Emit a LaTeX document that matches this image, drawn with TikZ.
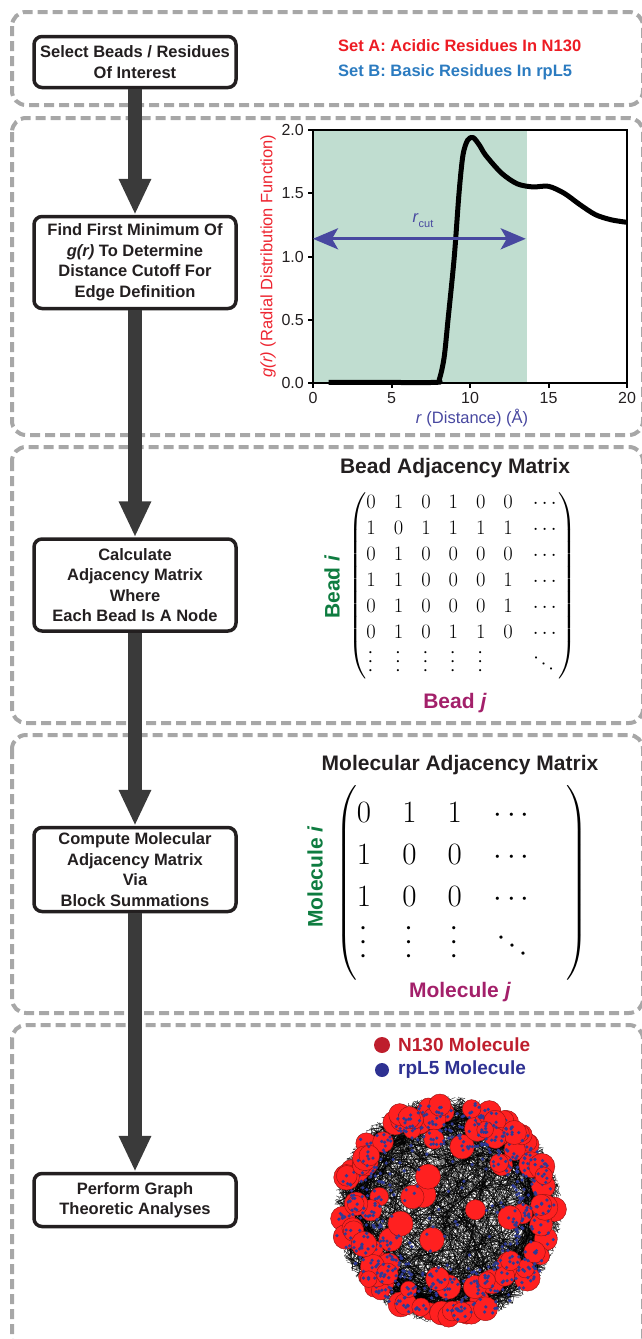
\documentclass[tikz,border=0pt]{standalone}
\usepackage{fix-cm}
\usepackage[no-math]{fontspec}
\setmainfont{Liberation Sans}
\usepackage{amsmath}
\usepackage{graphicx}
\usetikzlibrary{arrows.meta}

\definecolor{panelgray}{HTML}{A7A7A7}
\definecolor{inkblack}{HTML}{231F20}
\definecolor{shaftgray}{HTML}{3A3A3A}
\definecolor{setared}{HTML}{ED1C24}
\definecolor{setbblue}{HTML}{2B7BC0}
\definecolor{shadegreen}{HTML}{C0DDD0}
\definecolor{gred}{HTML}{ED2530}
\definecolor{cutblue}{HTML}{4848A0}
\definecolor{beadgreen}{HTML}{0E7C40}
\definecolor{beadpurple}{HTML}{A3206A}
\definecolor{legred}{HTML}{BE1E2D}
\definecolor{legblue}{HTML}{2E3192}
\definecolor{ballred}{HTML}{FF2020}
\definecolor{dotblue}{HTML}{2E3A96}

% round dots for the matrices, scaled with the font
\newcommand{\colvdots}{\rotatebox{90}{$\cdots$}}
\newcommand{\diagdots}{\raisebox{0.6em}{\rotatebox{-35}{$\cdots$}}}

\tikzset{
  panel/.style={draw=panelgray, line width=4pt, dash pattern=on 10pt off 5pt, rounded corners=14pt},
  stepbox/.style={draw=inkblack, line width=3.5pt, rounded corners=8pt, fill=white,
    minimum width=202pt, align=center, text=inkblack, inner sep=0pt,
    font=\fontsize{16.5}{20.5}\selectfont\bfseries},
  flow/.style={draw=shaftgray, line width=14pt, -{Triangle[length=36pt,width=30pt]}},
  ticklab/.style={font=\fontsize{16}{18}\selectfont, text=inkblack, inner sep=0pt},
  axlab/.style={font=\fontsize{16.5}{19}\selectfont, inner sep=0pt},
  cutarrow/.style={draw=cutblue, line width=3pt,
    {Stealth[length=25pt,width=21pt,inset=6pt]}-{Stealth[length=25pt,width=21pt,inset=6pt]}},
  mattitle/.style={font=\fontsize{21}{24}\selectfont\bfseries, text=inkblack, inner sep=0pt},
  matlab/.style={font=\fontsize{21}{24}\selectfont\bfseries, inner sep=0pt},
  legtext/.style={font=\fontsize{19}{22}\selectfont\bfseries, inner sep=0pt, anchor=west},
  edgeline/.style={draw=black, line width=0.5pt, opacity=0.75},
  redmol/.style={fill=ballred, draw=ballred!55!black, line width=0.4pt},
}

\begin{document}
\begin{tikzpicture}[x=1pt, y=-1pt]
\useasboundingbox (0,0) rectangle (641,1339);

% dashed panels
\draw[panel] (12,12) rectangle (643,105);
\draw[panel] (12,118) rectangle (643,435);
\draw[panel] (12,447) rectangle (643,723);
\draw[panel] (12,735) rectangle (643,1013);
\draw[panel] (12,1025) rectangle (643,1352);

% workflow steps
\node[stepbox, minimum height=51pt] (select) at (135,62) {Select Beads / Residues\\Of Interest};
\node[stepbox, minimum height=92pt] (findmin) at (135,262.5) {Find First Minimum Of\\\textit{g(r)} To Determine\\Distance Cutoff For\\Edge Definition};
\node[stepbox, minimum height=92pt] (beadadj) at (135,585) {Calculate\\Adjacency Matrix\\Where\\Each Bead Is A Node};
\node[stepbox, minimum height=84pt] (moladj) at (135,869.5) {Compute Molecular\\Adjacency Matrix\\Via\\Block Summations};
\node[stepbox, minimum height=53pt] (graphan) at (135,1200) {Perform Graph\\Theoretic Analyses};

\draw[flow] (select) -- (findmin);
\draw[flow] (findmin) -- (beadadj);
\draw[flow] (beadadj) -- (moladj);
\draw[flow] (moladj) -- (graphan);

% bead sets
\node[font=\fontsize{16.5}{19}\selectfont\bfseries, text=setared, anchor=west, inner sep=0pt] (seta) at (338,46) {Set A: Acidic Residues In N130};
\node[font=\fontsize{16.5}{19}\selectfont\bfseries, text=setbblue, anchor=west, inner sep=0pt] (setb) at (338,72) {Set B: Basic Residues In rpL5};

% g(r) plot
\begin{scope}[shift={(313,383)}, x=15.7pt, y=126.5pt]
  \fill[shadegreen] (0,0) rectangle (13.6,2);
  \draw[line width=5pt, line join=round] plot[smooth, tension=0.5] coordinates {
    (1,0.005) (4,0.005) (7.8,0.005) (8.05,0.03) (8.35,0.2) (8.6,0.5) (9.0,1.0)
    (9.3,1.5) (9.55,1.8) (9.85,1.92) (10.2,1.94) (10.6,1.88) (11,1.80) (12,1.66)
    (13,1.575) (14,1.55) (15,1.555) (16,1.5) (17,1.41) (18,1.33) (19,1.29) (20,1.27)};
  \draw[line width=2.5pt] (0,0) rectangle (20,2);
  \foreach \v/\t [count=\i] in {0/0.0,0.5/0.5,1/1.0,1.5/1.5,2/2.0}{
    \draw[line width=2pt] (0,\v) -- ++(-5pt,0);
    \node[ticklab, anchor=east, xshift=-9pt] (ytick\i) at (0,\v) {\t};
  }
  \foreach \u [count=\i] in {0,5,10,15,20}{
    \draw[line width=2pt] (\u,0) -- ++(0,-5pt);
    \node[ticklab, anchor=north, yshift=-9pt] (xtick\i) at (\u,0) {\u};
  }
  \draw[cutarrow] (0,1.14) -- (13.55,1.14);
\end{scope}
\node[axlab, text=cutblue] (rcut) at (423,221) {\textit{r}\raisebox{-5pt}{\fontsize{11}{12}\selectfont cut}};
\node[axlab, text=gred, rotate=90] (ylab) at (268,256) {\textit{g(r)} (Radial Distribution Function)};
\node[axlab, text=cutblue] (xlab) at (472,418) {\textit{r} (Distance) (Å)};

% bead adjacency matrix
\node[mattitle] (beadtitle) at (455,468) {Bead Adjacency Matrix};
\node[inner sep=0pt] (beadmat) at (462.5,585.5) {\fontsize{20.5}{26}\selectfont\setlength{\arraycolsep}{9pt}$\begin{pmatrix}
0 & 1 & 0 & 1 & 0 & 0 & \cdots\\
1 & 0 & 1 & 1 & 1 & 1 & \cdots\\
0 & 1 & 0 & 0 & 0 & 0 & \cdots\\
1 & 1 & 0 & 0 & 0 & 1 & \cdots\\
0 & 1 & 0 & 0 & 0 & 1 & \cdots\\
0 & 1 & 0 & 1 & 1 & 0 & \cdots\\
\colvdots & \colvdots & \colvdots & \colvdots & \colvdots & & \diagdots
\end{pmatrix}$};
\node[matlab, text=beadgreen, rotate=90] (beadi) at (332,587) {Bead \textit{i}};
\node[matlab, text=beadpurple] (beadj) at (455,703) {Bead \textit{j}};

% molecular adjacency matrix
\node[mattitle] (moltitle) at (460,765) {Molecular Adjacency Matrix};
\node[inner sep=0pt] (molmat) at (461.5,883) {\fontsize{31}{42}\selectfont\setlength{\arraycolsep}{15.6pt}\setlength{\delimitershortfall}{-6pt}$\begin{pmatrix}
0 & 1 & 1 & \cdots & \\
1 & 0 & 0 & \cdots & \\
1 & 0 & 0 & \cdots & \\
\colvdots & \colvdots & \colvdots & \diagdots &
\end{pmatrix}$};
\node[matlab, text=beadgreen, rotate=90] (moli) at (315,877) {Molecule \textit{i}};
\node[matlab, text=beadpurple] (molj) at (460,992) {Molecule \textit{j}};

% legend
\node[circle, fill=legred, minimum size=16pt, inner sep=0pt] (redmark) at (382,1045) {};
\node[legtext, text=legred] (redlab) at (398,1045) {N130 Molecule};
\node[circle, fill=legblue, minimum size=14pt, inner sep=0pt] (bluemark) at (382,1070) {};
\node[legtext, text=legblue] (bluelab) at (398,1070) {rpL5 Molecule};

% molecular network
\pgfmathsetseed{2024}
\begin{scope}[shift={(448,1210)}]
  % long chords
  \foreach \k in {1,...,650}{
    \pgfmathsetmacro{\aa}{360*rnd}
    \pgfmathsetmacro{\ab}{\aa+40+280*rnd}
    \pgfmathsetmacro{\ra}{114*(1-0.4*rnd*rnd)}
    \pgfmathsetmacro{\rb}{114*(1-0.4*rnd*rnd)}
    \draw[edgeline] (\aa:\ra) -- (\ab:\rb);
  }
  % short chords along the rim
  \foreach \k in {1,...,700}{
    \pgfmathsetmacro{\aa}{360*rnd}
    \pgfmathsetmacro{\ab}{\aa+(rnd-0.5)*110}
    \pgfmathsetmacro{\ra}{114*(1-0.3*rnd)}
    \pgfmathsetmacro{\rb}{114*(1-0.3*rnd)}
    \draw[edgeline] (\aa:\ra) -- (\ab:\rb);
  }
  % N130 molecules, each carrying a few rpL5 contacts
  \foreach \k in {1,...,105}{
    \pgfmathsetmacro{\aa}{360*rnd}
    \pgfmathsetmacro{\ra}{107*(1-0.45*rnd*rnd)}
    \pgfmathsetmacro{\rs}{8+5*rnd}
    \fill[redmol] (\aa:\ra) circle[radius=\rs];
    \foreach \m in {1,2,3}{
      \pgfmathsetmacro{\da}{360*rnd}
      \pgfmathsetmacro{\dr}{\rs*0.8*rnd}
      \fill[dotblue] ([shift={(\da:\dr)}]\aa:\ra) circle[radius=1.8];
    }
  }
  \foreach \k in {1,...,8}{
    \pgfmathsetmacro{\aa}{360*rnd}
    \pgfmathsetmacro{\ra}{20+50*rnd}
    \pgfmathsetmacro{\rs}{9+4*rnd}
    \fill[redmol] (\aa:\ra) circle[radius=\rs];
  }
  % rpL5 molecules
  \foreach \k in {1,...,420}{
    \pgfmathsetmacro{\aa}{360*rnd}
    \pgfmathsetmacro{\ra}{110*(1-0.4*rnd)}
    \fill[dotblue] (\aa:\ra) circle[radius=1.8];
  }
  \foreach \k in {1,...,90}{
    \pgfmathsetmacro{\aa}{360*rnd}
    \pgfmathsetmacro{\ra}{105*sqrt(rnd)}
    \fill[dotblue] (\aa:\ra) circle[radius=1.8];
  }
\end{scope}
\end{tikzpicture}
\end{document}
